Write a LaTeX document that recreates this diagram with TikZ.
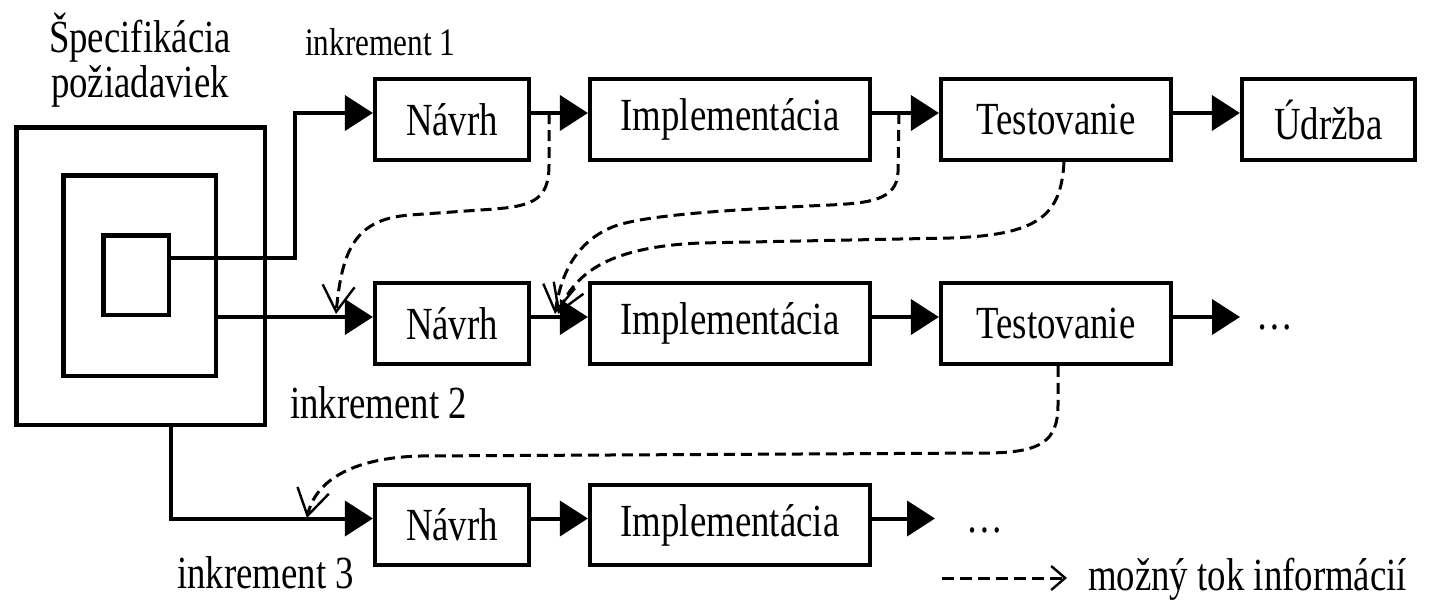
\documentclass[tikz,border=0pt]{standalone}
\usepackage{fontspec}
\setmainfont{Liberation Serif}[FakeStretch=0.8]
\usetikzlibrary{arrows.meta}
\begin{document}
\begin{tikzpicture}[x=1pt,y=-1pt,
  box/.style={draw, line width=4.2pt, minimum height=80.5pt, inner sep=0pt, font=\fontsize{46}{50}\selectfont},
  sq/.style={draw, line width=4.5pt, inner sep=0pt},
  conn/.style={line width=4pt, -{Triangle[length=28pt,width=35pt]}},
  flow/.style={line width=3pt, dash pattern=on 11pt off 6pt, -{Straight Barb[length=26pt,width=32pt,line width=2.4pt]}},
  legflow/.style={line width=3pt, dash pattern=on 12pt off 6pt, -{Straight Barb[length=14pt,width=24pt,line width=2.4pt]}},
  lbl/.style={inner sep=0pt, font=\fontsize{46}{50}\selectfont},
  lblsmall/.style={inner sep=0pt, font=\fontsize{39}{42}\selectfont}]
\useasboundingbox (0,0) rectangle (1430,605);

% nested squares
\node[sq, minimum width=248.5pt, minimum height=297.5pt] (outer) at (140.5,276) {};
\node[sq, minimum width=152.5pt, minimum height=200.5pt] (mid) at (139.5,275.5) {};
\node[sq, minimum width=65.5pt, minimum height=79.5pt] (inner) at (136,275) {};

% labels
\node[lbl, anchor=base] (spec1) at (140,52) {Špecifikácia};
\node[lbl, anchor=base] (spec2) at (140,97) {požiadaviek};
\node[lblsmall, anchor=base west] (ink1) at (305,55) {inkrement 1};
\node[lbl, anchor=base west] (ink2) at (290,418) {inkrement 2};
\node[lbl, anchor=base west] (ink3) at (177,588) {inkrement 3};

% row 1
\node[box, minimum width=154pt] (n1) at (452,119.5) {Návrh};
\node[box, minimum width=280pt] (i1) at (730,119.5) {Implementácia};
\node[box, minimum width=230pt] (t1) at (1056,119.5) {Testovanie};
\node[box, minimum width=173pt] (u1) at (1328.5,119.5) {Údržba};
% row 2
\node[box, minimum width=154pt] (n2) at (452,323.5) {Návrh};
\node[box, minimum width=280pt] (i2) at (730,323.5) {Implementácia};
\node[box, minimum width=230pt] (t2) at (1056,323.5) {Testovanie};
\node[lbl, anchor=base west] (d2) at (1256,329) {…};
% row 3
\node[box, minimum width=154pt] (n3) at (452,525) {Návrh};
\node[box, minimum width=280pt] (i3) at (730,525) {Implementácia};
\node[lbl, anchor=base west] (d3) at (966,532) {…};

% feed connectors
\coordinate (k1) at (295,113);
\coordinate (k3) at (171,0);
\coordinate (a1) at ([yshift=6.5pt]n1.west);
\coordinate (a2) at ([yshift=6.5pt]n2.west);
\coordinate (a3) at ([yshift=6.5pt]n3.west);
\draw[conn] ([yshift=17pt]inner.east) -| (k1) -- (a1);
\draw[conn] (mid.east |- a2) -- (a2);
\draw[conn] (outer.south -| k3) |- (a3);

% row connectors
\draw[conn] ([yshift=6.5pt]n1.east) -- ([yshift=6.5pt]i1.west);
\draw[conn] ([yshift=6.5pt]i1.east) -- ([yshift=6.5pt]t1.west);
\draw[conn] ([yshift=6.5pt]t1.east) -- ([yshift=6.5pt]u1.west);
\draw[conn] ([yshift=6.5pt]n2.east) -- ([yshift=6.5pt]i2.west);
\draw[conn] ([yshift=6.5pt]i2.east) -- ([yshift=6.5pt]t2.west);
\coordinate (e2) at (1240,317);
\draw[conn] ([yshift=6.5pt]t2.east) -- (e2);
\draw[conn] ([yshift=6.5pt]n3.east) -- ([yshift=6.5pt]i3.west);
\coordinate (e3) at (935,518.5);
\draw[conn] ([yshift=6.5pt]i3.east) -- (e3);

% information flow (dashed)
\coordinate (c1s) at (549,113);
\coordinate (c1e) at (336,314);
\draw[flow] (c1s) -- (549,165) .. controls (549,203) and (530,207) .. (480,210)
  -- (410,215) .. controls (355,219) and (342,250) .. (c1e);
\coordinate (c2s) at (899,113);
\coordinate (c2e) at (555,314);
\draw[flow] (c2s) -- (898,172) .. controls (897,200) and (870,203) .. (830,205)
  .. controls (700,211) and (635,217) .. (610,228) .. controls (572,245) and (560,280) .. (c2e);
\coordinate (c3e) at (558,314);
\draw[flow] ([xshift=8pt]t1.south) .. controls (1061,215) and (1040,235) .. (950,238)
  -- (700,243) .. controls (610,247) and (575,272) .. (c3e);
\coordinate (c4e) at (307,518);
\draw[flow] ([xshift=2pt]t2.south) -- (1058,405) .. controls (1058,442) and (1040,452) .. (990,453)
  -- (420,456) .. controls (350,458) and (315,482) .. (c4e);

% legend
\coordinate (lgs) at (942,578);
\coordinate (lge) at (1067,578);
\draw[legflow] (lgs) -- (lge);
\node[lbl, anchor=base west] (leg) at (1088,590) {možný tok informácií};
\end{tikzpicture}
\end{document}
